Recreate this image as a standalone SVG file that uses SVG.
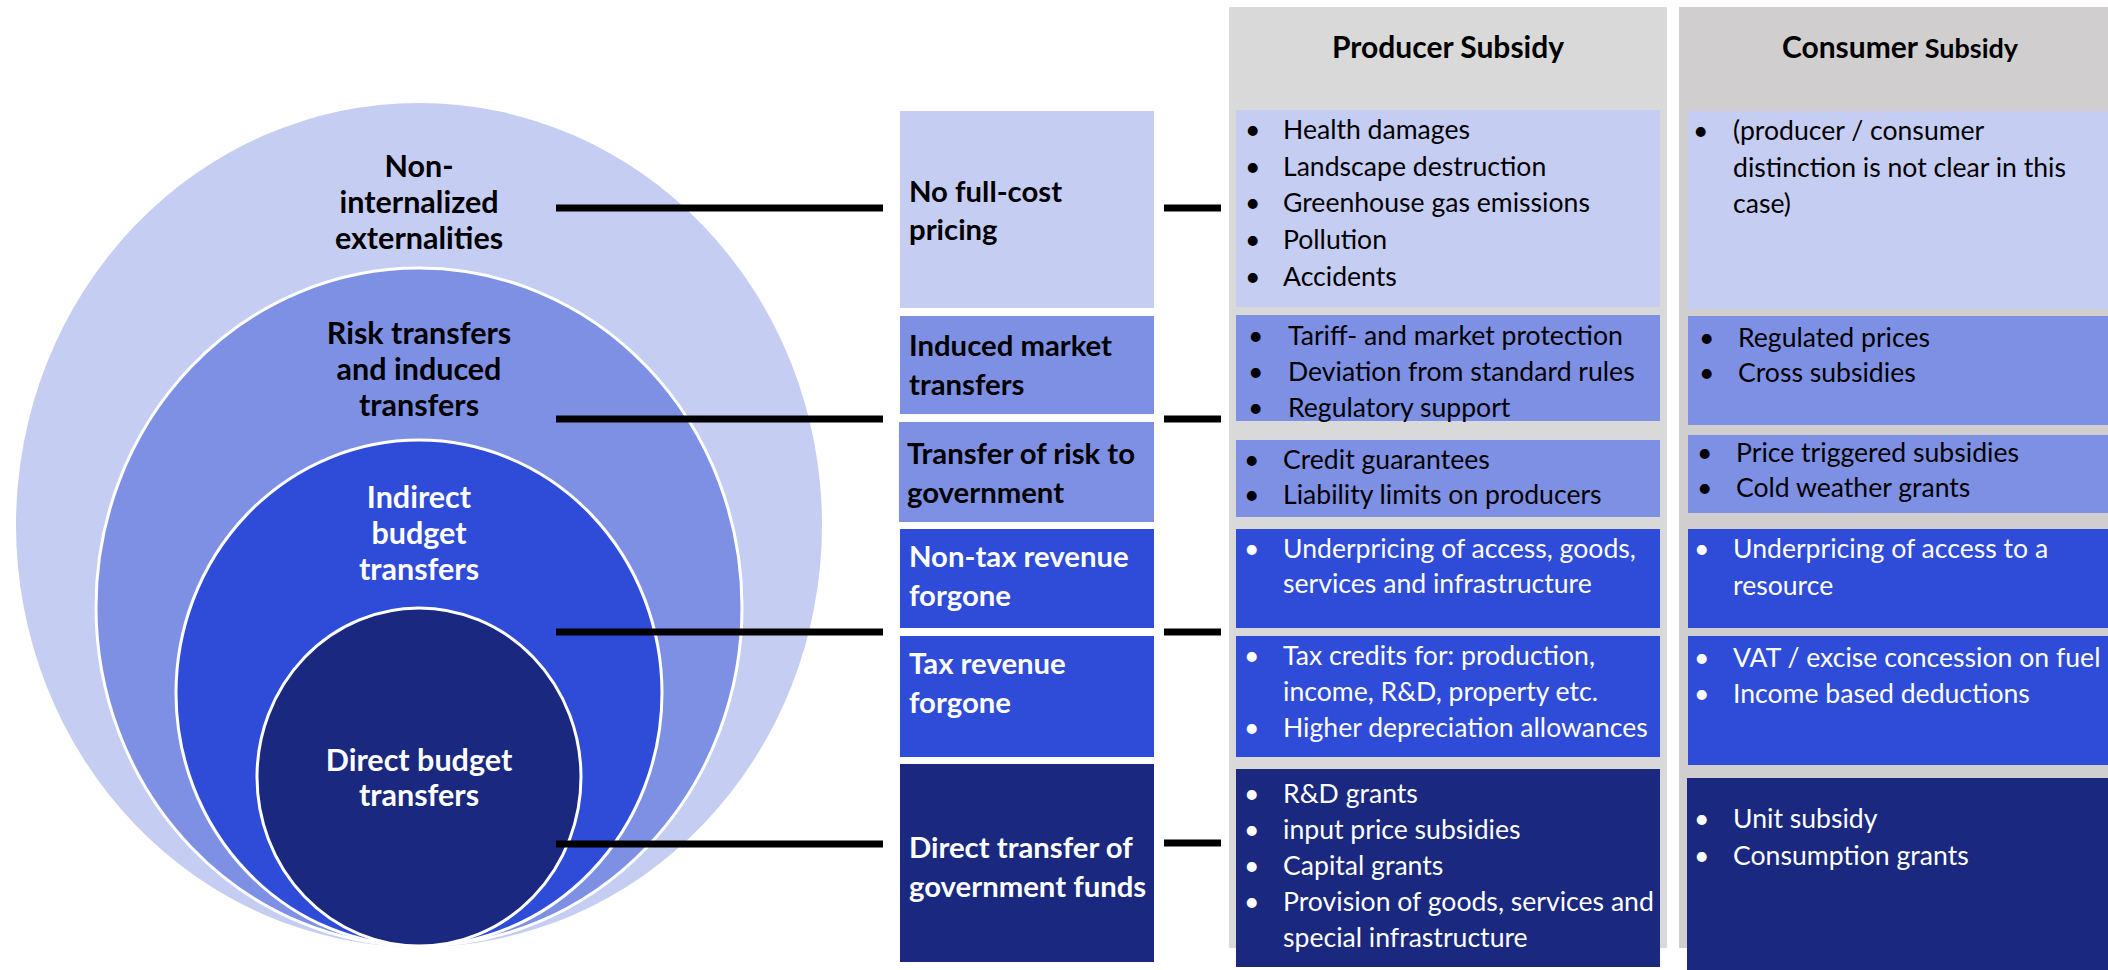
<svg xmlns="http://www.w3.org/2000/svg" width="2108" height="970" viewBox="0 0 2108 970">
<style>
.c1{fill:#C6CDF3}.c2{fill:#7E90E4}.c3{fill:#2F4CD8}.c4{fill:#1A297F}
.ring{stroke:#FFFFFF;stroke-width:3}
.lbl{font-family:Lato,"Open Sans","Liberation Sans",sans-serif;font-weight:bold;font-size:29.3px}
.cl{font-family:Lato,"Open Sans","Liberation Sans",sans-serif;font-weight:bold;font-size:30.5px;text-anchor:middle}
.hd{font-family:Lato,"Open Sans","Liberation Sans",sans-serif;font-weight:bold;font-size:30px;text-anchor:middle;fill:#000}
.tx{font-family:Lato,"Open Sans","Liberation Sans",sans-serif;font-size:26.6px}
.k{fill:#000}.w{fill:#FFF}
.conn{stroke:#000;stroke-width:7}
</style>
<rect width="2108" height="970" fill="#FFFFFF"/>
<g id="circles">
<g id="c-nonint">
<ellipse class="c1" cx="419" cy="525" rx="403" ry="422"/>
<text class="cl k"><tspan x="419" y="177">Non-</tspan><tspan x="419" y="213">internalized</tspan><tspan x="419" y="249">externalities</tspan></text>
</g>
<g id="c-risk">
<ellipse class="c2 ring" cx="419" cy="607" rx="323" ry="339"/>
<text class="cl k"><tspan x="419" y="344">Risk transfers</tspan><tspan x="419" y="380">and induced</tspan><tspan x="419" y="416">transfers</tspan></text>
</g>
<g id="c-indirect">
<ellipse class="c3 ring" cx="419" cy="693" rx="243" ry="253"/>
<text class="cl w"><tspan x="419" y="508">Indirect</tspan><tspan x="419" y="544">budget</tspan><tspan x="419" y="580">transfers</tspan></text>
</g>
<g id="c-direct">
<ellipse class="c4 ring" cx="419" cy="777" rx="162" ry="169"/>
<text class="cl w"><tspan x="419" y="771">Direct budget</tspan><tspan x="419" y="806">transfers</tspan></text>
</g>
</g>
<g id="connectors">
<line class="conn" x1="556" y1="208" x2="883" y2="208"/>
<line class="conn" x1="556" y1="419" x2="883" y2="419"/>
<line class="conn" x1="556" y1="632" x2="883" y2="632"/>
<line class="conn" x1="556" y1="844" x2="883" y2="844"/>
<line class="conn" x1="1164" y1="208" x2="1221" y2="208"/>
<line class="conn" x1="1164" y1="419" x2="1221" y2="419"/>
<line class="conn" x1="1164" y1="632" x2="1221" y2="632"/>
<line class="conn" x1="1164" y1="843" x2="1221" y2="843"/>
</g>
<g id="categories">
<g id="b-fullcost"><rect class="c1" x="900" y="111" width="254" height="197"/>
<text class="lbl k"><tspan x="909" y="202">No full-cost</tspan><tspan x="909" y="240">pricing</tspan></text></g>
<g id="b-induced"><rect class="c2" x="900" y="316" width="254" height="98"/>
<text class="lbl k"><tspan x="909" y="356">Induced market</tspan><tspan x="909" y="395">transfers</tspan></text></g>
<g id="b-risk"><rect class="c2" x="899" y="422" width="255" height="100"/>
<text class="lbl k"><tspan x="907" y="464">Transfer of risk to</tspan><tspan x="907" y="503">government</tspan></text></g>
<g id="b-nontax"><rect class="c3" x="900" y="529" width="254" height="99"/>
<text class="lbl w"><tspan x="909" y="567">Non-tax revenue</tspan><tspan x="909" y="606">forgone</tspan></text></g>
<g id="b-tax"><rect class="c3" x="900" y="636" width="254" height="121"/>
<text class="lbl w"><tspan x="909" y="674">Tax revenue</tspan><tspan x="909" y="713">forgone</tspan></text></g>
<g id="b-direct"><rect class="c4" x="900" y="764" width="254" height="198"/>
<text class="lbl w"><tspan x="909" y="858">Direct transfer of</tspan><tspan x="909" y="897">government funds</tspan></text></g>
</g>
<g id="producer">
<rect x="1229" y="7" width="438" height="941" fill="#D9D9D9"/>
<text class="hd" x="1448" y="58">Producer Subsidy</text>
<g id="p1"><rect class="c1" x="1236" y="110" width="424" height="197"/>
<text class="tx k"><tspan x="1245" y="139">•</tspan><tspan x="1283" y="139">Health damages</tspan><tspan x="1245" y="176">•</tspan><tspan x="1283" y="176">Landscape destruction</tspan><tspan x="1245" y="212">•</tspan><tspan x="1283" y="212">Greenhouse gas emissions</tspan><tspan x="1245" y="249">•</tspan><tspan x="1283" y="249">Pollution</tspan><tspan x="1245" y="286">•</tspan><tspan x="1283" y="286">Accidents</tspan></text></g>
<g id="p2"><rect class="c2" x="1236" y="315" width="424" height="106"/>
<text class="tx k"><tspan x="1248" y="345">•</tspan><tspan x="1288" y="345">Tariff- and market protection</tspan><tspan x="1248" y="381">•</tspan><tspan x="1288" y="381">Deviation from standard rules</tspan><tspan x="1248" y="417">•</tspan><tspan x="1288" y="417">Regulatory support</tspan></text></g>
<g id="p3"><rect class="c2" x="1236" y="440" width="424" height="77"/>
<text class="tx k"><tspan x="1244" y="469">•</tspan><tspan x="1283" y="469">Credit guarantees</tspan><tspan x="1244" y="504">•</tspan><tspan x="1283" y="504">Liability limits on producers</tspan></text></g>
<g id="p4"><rect class="c3" x="1236" y="529" width="424" height="99"/>
<text class="tx w"><tspan x="1244" y="558">•</tspan><tspan x="1283" y="558">Underpricing of access, goods,</tspan><tspan x="1283" y="593">services and infrastructure</tspan></text></g>
<g id="p5"><rect class="c3" x="1236" y="636" width="424" height="121"/>
<text class="tx w"><tspan x="1244" y="665">•</tspan><tspan x="1283" y="665">Tax credits for: production,</tspan><tspan x="1283" y="701">income, R&amp;D, property etc.</tspan><tspan x="1244" y="737">•</tspan><tspan x="1283" y="737">Higher depreciation allowances</tspan></text></g>
<g id="p6"><rect class="c4" x="1236" y="769" width="424" height="198"/>
<text class="tx w"><tspan x="1244" y="803">•</tspan><tspan x="1283" y="803">R&amp;D grants</tspan><tspan x="1244" y="839">•</tspan><tspan x="1283" y="839">input price subsidies</tspan><tspan x="1244" y="875">•</tspan><tspan x="1283" y="875">Capital grants</tspan><tspan x="1244" y="911">•</tspan><tspan x="1283" y="911">Provision of goods, services and</tspan><tspan x="1283" y="947">special infrastructure</tspan></text></g>
</g>
<g id="consumer">
<rect x="1679" y="7" width="429" height="941" fill="#D0CECE"/>
<text class="hd" x="1900" y="58">Consumer <tspan font-size="27px">Subsidy</tspan></text>
<g id="q1"><rect class="c1" x="1688" y="111" width="420" height="198"/>
<text class="tx k"><tspan x="1693" y="140">•</tspan><tspan x="1733" y="140">(producer / consumer</tspan><tspan x="1733" y="177">distinction is not clear in this</tspan><tspan x="1733" y="213">case)</tspan></text></g>
<g id="q2"><rect class="c2" x="1688" y="316" width="420" height="109"/>
<text class="tx k"><tspan x="1699" y="347">•</tspan><tspan x="1738" y="347">Regulated prices</tspan><tspan x="1699" y="382">•</tspan><tspan x="1738" y="382">Cross subsidies</tspan></text></g>
<g id="q3"><rect class="c2" x="1688" y="435" width="420" height="78"/>
<text class="tx k"><tspan x="1697" y="462">•</tspan><tspan x="1736" y="462">Price triggered subsidies</tspan><tspan x="1697" y="497">•</tspan><tspan x="1736" y="497">Cold weather grants</tspan></text></g>
<g id="q4"><rect class="c3" x="1688" y="529" width="420" height="99"/>
<text class="tx w"><tspan x="1694" y="558">•</tspan><tspan x="1733" y="558">Underpricing of access to a</tspan><tspan x="1733" y="595">resource</tspan></text></g>
<g id="q5"><rect class="c3" x="1688" y="636" width="420" height="129"/>
<text class="tx w"><tspan x="1694" y="667">•</tspan><tspan x="1733" y="667">VAT / excise concession on fuel</tspan><tspan x="1694" y="703">•</tspan><tspan x="1733" y="703">Income based deductions</tspan></text></g>
<g id="q6"><rect class="c4" x="1687" y="778" width="421" height="192"/>
<text class="tx w"><tspan x="1694" y="828">•</tspan><tspan x="1733" y="828">Unit subsidy</tspan><tspan x="1694" y="865">•</tspan><tspan x="1733" y="865">Consumption grants</tspan></text></g>
</g>
</svg>
